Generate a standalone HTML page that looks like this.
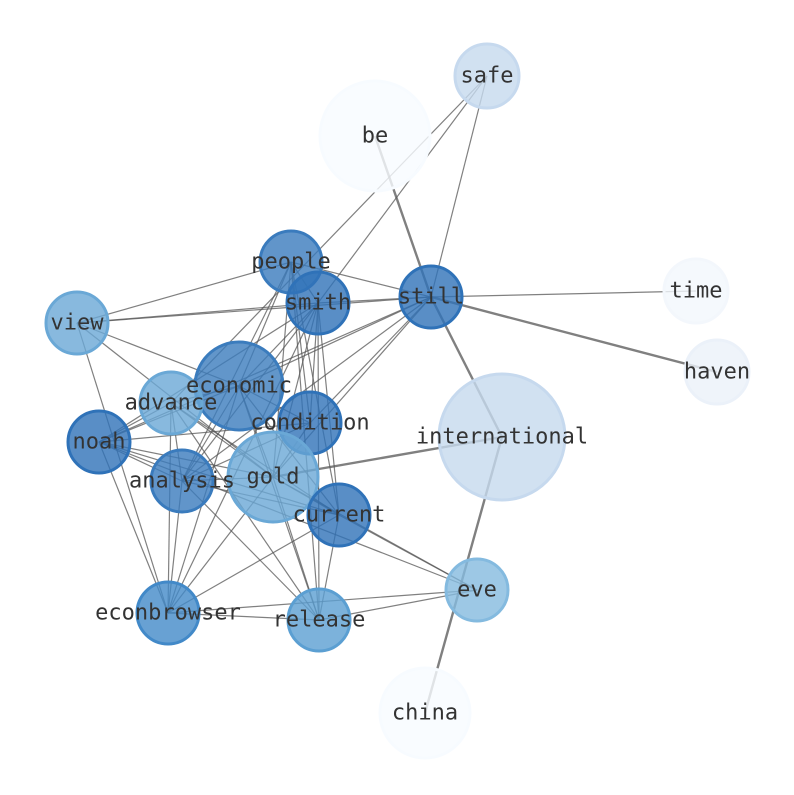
<!DOCTYPE html>
<html><head><style>body{margin:0;background:#fff}svg text{font-family:"DejaVu Sans Mono","Liberation Mono",monospace;font-size:22px;fill:#333;text-anchor:middle;dominant-baseline:central}</style></head>
<body>
<svg width="794" height="790" viewBox="0 0 794 790" xmlns="http://www.w3.org/2000/svg">
<g stroke="#555" stroke-opacity="0.75" stroke-width="1.2" id="e"></g>
<g id="n"></g>
<g id="t"></g>
</svg>
<script>
var N={safe:[487,76,32,'#c6d9ee'],be:[375,136,55,'#f7fbff'],people:[291,262,31,'#3a7bbd'],smith:[318,303,31,'#2f72b8'],still:[431,297,31,'#2f72b8'],time:[696,291,32,'#f3f7fc'],haven:[717,372,32,'#ebf1f9'],view:[77,323,31,'#6aa8d6'],economic:[239,386,44,'#3b7cbd'],advance:[171,403,31,'#6aa8d6'],noah:[99,442,31,'#2f72b8'],condition:[310,423,31,'#2f72b8'],international:[502,437,63,'#c6d9ee'],gold:[273,477,45,'#6aa8d6'],analysis:[182,481,31,'#3a7bbd'],current:[339,515,31,'#2f72b8'],eve:[477,590,31,'#84badf'],econbrowser:[168,613,31,'#4289c8'],release:[319,620,31,'#5b9fd2'],china:[425,713,45,'#f7fbff']};
var E="safe-advance safe-smith safe-still view-people view-smith view-still view-economic view-gold view-econbrowser people-still people-smith people-economic people-gold people-condition people-analysis people-current people-release smith-still smith-economic smith-condition smith-gold smith-current smith-release smith-analysis smith-noah smith-econbrowser still-economic still-condition still-gold still-noah still-analysis still-time economic-advance economic-noah economic-condition economic-gold economic-analysis economic-current economic-release economic-econbrowser advance-noah advance-gold advance-analysis advance-econbrowser advance-release advance-current noah-analysis noah-gold noah-current noah-condition noah-econbrowser noah-eve analysis-gold analysis-current analysis-econbrowser analysis-release analysis-condition gold-current gold-econbrowser gold-eve gold-release gold-condition current-eve current-release current-econbrowser eve-release eve-econbrowser econbrowser-release";
var T="be-still still-haven still-international gold-international international-china";
var ns="http://www.w3.org/2000/svg",s=document.querySelector('svg');
function ln(a,b,w){var l=document.createElementNS(ns,'line');l.setAttribute('x1',N[a][0]);l.setAttribute('y1',N[a][1]);l.setAttribute('x2',N[b][0]);l.setAttribute('y2',N[b][1]);if(w)l.setAttribute('stroke-width',w);document.getElementById('e').appendChild(l);}
E.split(' ').forEach(function(p){var q=p.split('-');ln(q[0],q[1]);});
T.split(' ').forEach(function(p){var q=p.split('-');ln(q[0],q[1],2.4);});
for(var k in N){var v=N[k];var c=document.createElementNS(ns,'circle');c.setAttribute('cx',v[0]);c.setAttribute('cy',v[1]);c.setAttribute('r',v[2]);c.setAttribute('fill',v[3]);c.setAttribute('fill-opacity','0.8');c.setAttribute('stroke',v[3]);c.setAttribute('stroke-width','3');document.getElementById('n').appendChild(c);
var t=document.createElementNS(ns,'text');t.setAttribute('x',v[0]);t.setAttribute('y',v[1]);t.textContent=k;document.getElementById('t').appendChild(t);}
</script>
</body></html>
